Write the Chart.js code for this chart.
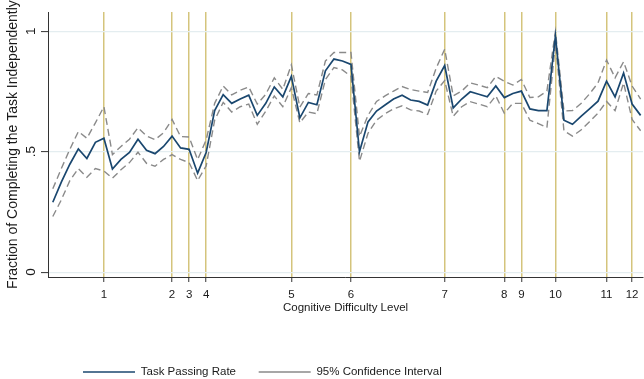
<!DOCTYPE html>
<html>
<head>
<meta charset="utf-8">
<script src="https://cdn.jsdelivr.net/npm/chart.js@4/dist/chart.umd.min.js"></script>
<style>
  html, body { margin: 0; padding: 0; background: #ffffff; }
  #wrap { width: 644px; height: 379px; position: relative; }
</style>
</head>
<body>
<div id="wrap"><canvas id="c" width="644" height="379"></canvas></div>
<script>
// ---- data ----
const mainRate = [
  0.290, 0.374, 0.448, 0.512, 0.472, 0.539, 0.556, 0.428, 0.468, 0.497,
  0.552, 0.506, 0.492, 0.522, 0.565, 0.516, 0.510, 0.411, 0.497, 0.671,
  0.737, 0.701, 0.719, 0.735, 0.651, 0.701, 0.769, 0.728, 0.813, 0.641,
  0.705, 0.695, 0.836, 0.885, 0.877, 0.863, 0.500, 0.624, 0.669, 0.694,
  0.719, 0.735, 0.715, 0.709, 0.694, 0.793, 0.858, 0.682, 0.719, 0.749,
  0.739, 0.728, 0.773, 0.725, 0.742, 0.752, 0.678, 0.671, 0.671, 0.980,
  0.631, 0.614, 0.647, 0.678, 0.710, 0.793, 0.728, 0.827, 0.698, 0.651
];
const ciUpper = [
  0.346, 0.430, 0.510, 0.584, 0.556, 0.620, 0.687, 0.488, 0.522, 0.552,
  0.600, 0.565, 0.550, 0.579, 0.634, 0.563, 0.561, 0.467, 0.549, 0.701,
  0.773, 0.736, 0.755, 0.769, 0.698, 0.739, 0.807, 0.759, 0.861, 0.685,
  0.742, 0.736, 0.877, 0.912, 0.912, 0.912, 0.563, 0.651, 0.709, 0.732,
  0.752, 0.771, 0.758, 0.752, 0.746, 0.847, 0.926, 0.732, 0.752, 0.786,
  0.777, 0.766, 0.813, 0.793, 0.777, 0.800, 0.725, 0.728, 0.752, 1.000,
  0.669, 0.671, 0.700, 0.740, 0.786, 0.881, 0.807, 0.874, 0.773, 0.719
];
const ciLower = [
  0.231, 0.300, 0.380, 0.430, 0.394, 0.430, 0.420, 0.390, 0.425, 0.455,
  0.498, 0.452, 0.440, 0.468, 0.488, 0.468, 0.455, 0.380, 0.441, 0.631,
  0.705, 0.665, 0.687, 0.698, 0.614, 0.669, 0.732, 0.687, 0.766, 0.620,
  0.665, 0.658, 0.800, 0.850, 0.840, 0.813, 0.460, 0.577, 0.631, 0.658,
  0.678, 0.691, 0.674, 0.669, 0.655, 0.752, 0.796, 0.647, 0.687, 0.708,
  0.698, 0.687, 0.732, 0.660, 0.701, 0.701, 0.631, 0.617, 0.600, 0.950,
  0.587, 0.565, 0.590, 0.625, 0.660, 0.709, 0.671, 0.786, 0.634, 0.587
];
// item positions (on the item axis) at which each difficulty level starts
const levelPositions = [6, 14, 16, 18, 28, 35, 46, 53, 55, 59, 65, 68];
const levelLabels = ["1", "2", "3", "4", "5", "6", "7", "8", "9", "10", "11", "12"];
const yTickValues = [0, 0.5, 1];
const yTickLabels = ["0", ".5", "1"];
const seriesNames = ["Task Passing Rate", "95% Confidence Interval"];
const xTitle = "Cognitive Difficulty Level";
const yTitle = "Fraction of Completing the Task Independently";

// ---- chart ----
const toPoints = arr => arr.map((v, i) => ({ x: i, y: v }));
const CANVAS_H = 379;
const PLOT_BOTTOM = 277;

Chart.defaults.font.family = "'Liberation Sans', Arial, Helvetica, sans-serif";
Chart.defaults.color = "#1a1a1a";

const legendPlacer = {
  id: 'legendPlacer',
  afterLayout(chart) {
    const lg = chart.legend;
    if (!lg) return;
    const pad = lg.options.labels.padding;
    const fs = lg.options.labels.font.size;
    lg.left = 83 - pad;
    lg.right = 644;
    lg.top = 372 - pad - fs / 2;
  }
};

new Chart(document.getElementById('c'), {
  type: 'line',
  data: {
    datasets: [
      {
        label: seriesNames[0],
        data: toPoints(mainRate),
        borderColor: '#1a476f',
        backgroundColor: '#1a476f',
        borderWidth: 1.7,
        pointRadius: 0,
        tension: 0,
        order: 0
      },
      {
        label: seriesNames[1],
        data: toPoints(ciUpper),
        borderColor: '#8a8a8a',
        backgroundColor: '#8a8a8a',
        borderWidth: 1.4,
        borderDash: [7, 4],
        pointRadius: 0,
        tension: 0,
        order: 1
      },
      {
        label: 'lower',
        data: toPoints(ciLower),
        borderColor: '#8a8a8a',
        backgroundColor: '#8a8a8a',
        borderWidth: 1.4,
        borderDash: [7, 4],
        pointRadius: 0,
        tension: 0,
        order: 2
      }
    ]
  },
  options: {
    responsive: false,
    animation: false,
    devicePixelRatio: 1,
    layout: { padding: { top: 6, right: 0, left: 0, bottom: 0 } },
    plugins: {
      tooltip: { enabled: false },
      legend: {
        display: true,
        position: 'bottom',
        align: 'start',
        labels: {
          usePointStyle: true,
          pointStyle: 'line',
          pointStyleWidth: 52,
          boxWidth: 52,
          boxHeight: 11.5,
          padding: 22.7,
          color: '#1a1a1a',
          font: { size: 11.5 },
          filter: item => item.datasetIndex < 2
        }
      }
    },
    scales: {
      x: {
        type: 'linear',
        min: -0.563,
        max: 69.29,
        afterBuildTicks: scale => { scale.ticks = levelPositions.map(v => ({ value: v })); },
        afterFit: scale => {
          scale.height = CANVAS_H - PLOT_BOTTOM - scale.chart.legend.height;
        },
        ticks: {
          autoSkip: false,
          maxRotation: 0,
          minRotation: 0,
          padding: 5.5,
          color: '#1a1a1a',
          font: { size: 11.5 },
          callback: (v) => levelLabels[levelPositions.indexOf(v)]
        },
        grid: {
          display: true,
          drawOnChartArea: true,
          color: 'rgba(207,190,110,0.9)',
          lineWidth: 1.5,
          tickColor: '#333333',
          tickLength: 5,
          tickWidth: 1
        },
        border: { display: true, color: '#333333', width: 1 },
        title: {
          display: true,
          text: xTitle,
          color: '#1a1a1a',
          font: { size: 11.5 },
          padding: { top: 0, bottom: 20 }
        }
      },
      y: {
        type: 'linear',
        min: -0.0203,
        max: 1.08,
        afterBuildTicks: scale => { scale.ticks = yTickValues.map(v => ({ value: v })); },
        afterFit: scale => { scale.width = 48; },
        ticks: {
          minRotation: 90,
          maxRotation: 90,
          crossAlign: 'center',
          padding: 4,
          color: '#1a1a1a',
          font: { size: 13.5 },
          callback: (v) => yTickLabels[yTickValues.indexOf(v)]
        },
        grid: {
          display: true,
          drawOnChartArea: true,
          color: '#e4edf0',
          lineWidth: 1.2,
          tickColor: '#333333',
          tickLength: 7,
          tickWidth: 1
        },
        border: { display: true, color: '#333333', width: 1 },
        title: {
          display: true,
          text: yTitle,
          color: '#1a1a1a',
          font: { size: 14 },
          padding: { top: 4.5, bottom: 0 }
        }
      }
    }
  },
  plugins: [legendPlacer]
});
</script>
</body>
</html>
